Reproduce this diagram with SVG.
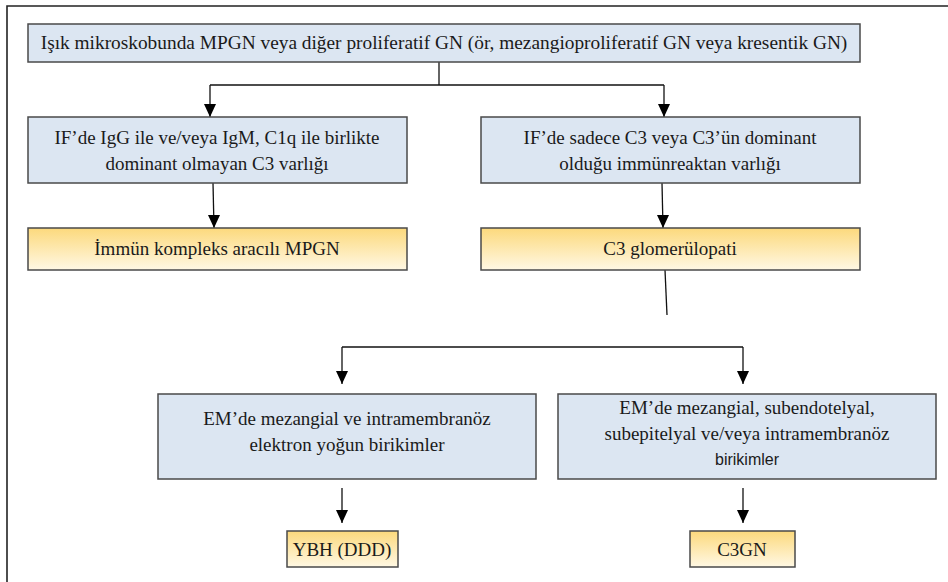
<svg xmlns="http://www.w3.org/2000/svg" width="948" height="582" viewBox="0 0 948 582">
<style>
.frame{fill:none;stroke:#222;stroke-width:1.6}
.blue{fill:#dce6f2;stroke:#4a4a4a;stroke-width:1.5}
.yel{fill:url(#yg);stroke:#4a4a4a;stroke-width:1.5}
.t{font-family:'Liberation Serif',serif;font-size:19px;fill:#1a1a1a;text-anchor:middle}
.s{font-family:'Liberation Sans',sans-serif;font-size:16px;fill:#1a1a1a;text-anchor:middle}
.c{fill:none;stroke:#111;stroke-width:1.3}
</style>
<defs>
<linearGradient id="yg" x1="0" y1="0" x2="0" y2="1">
<stop offset="0" stop-color="#fcd97c"/>
<stop offset="1" stop-color="#fff8e4"/>
</linearGradient>
<marker id="ad" markerUnits="userSpaceOnUse" markerWidth="12" markerHeight="14" refX="6" refY="13" orient="0" viewBox="0 0 12 14">
<path d="M0,0 L12,0 L6,13 Z" fill="#000"/>
</marker>
</defs>
<path class="frame" d="M7,582 V6 H948"/>
<g id="connectors">
<path class="c" d="M439,62 V85"/>
<path class="c" d="M210,85 H664"/>
<path class="c" d="M210,85 V117" marker-end="url(#ad)"/>
<path class="c" d="M664,85 V117" marker-end="url(#ad)"/>
<path class="c" d="M213,183 L214,228" marker-end="url(#ad)"/>
<path class="c" d="M662,183 L663,228" marker-end="url(#ad)"/>
<path class="c" d="M665,270 L667,315"/>
<path class="c" d="M342,347 H743"/>
<path class="c" d="M342,347 V384" marker-end="url(#ad)"/>
<path class="c" d="M743,347 V384" marker-end="url(#ad)"/>
<path class="c" d="M342,488 V523" marker-end="url(#ad)"/>
<path class="c" d="M743,488 V523" marker-end="url(#ad)"/>
</g>
<g id="n-top">
<rect class="blue" x="28" y="24" width="832" height="38"/>
<text class="t" x="444" y="49" style="font-size:19.35px">Işık mikroskobunda MPGN veya diğer proliferatif GN (ör, mezangioproliferatif GN veya kresentik GN)</text>
</g>
<g id="n-if-left">
<rect class="blue" x="28" y="117" width="379" height="66"/>
<text class="t" x="217" y="144">IF’de IgG ile ve/veya IgM, C1q ile birlikte</text>
<text class="t" x="217" y="170">dominant olmayan C3 varlığı</text>
</g>
<g id="n-if-right">
<rect class="blue" x="481" y="117" width="379" height="66"/>
<text class="t" x="670" y="144">IF’de sadece C3 veya C3’ün dominant</text>
<text class="t" x="670" y="170">olduğu immünreaktan varlığı</text>
</g>
<g id="n-ic-mpgn">
<rect class="yel" x="28" y="228" width="379" height="42"/>
<text class="t" x="217" y="255">İmmün kompleks aracılı MPGN</text>
</g>
<g id="n-c3g">
<rect class="yel" x="481" y="228" width="379" height="42"/>
<text class="t" x="670" y="255">C3 glomerülopati</text>
</g>
<g id="n-em-left">
<rect class="blue" x="158" y="394" width="378" height="85"/>
<text class="t" x="347" y="425">EM’de mezangial ve intramembranöz</text>
<text class="t" x="347" y="451">elektron yoğun birikimler</text>
</g>
<g id="n-em-right">
<rect class="blue" x="558" y="394" width="378" height="85"/>
<text class="t" x="747" y="414">EM’de mezangial, subendotelyal,</text>
<text class="t" x="747" y="440">subepitelyal ve/veya intramembranöz</text>
<text class="s" x="747" y="465">birikimler</text>
</g>
<g id="n-ybh">
<rect class="yel" x="287" y="531" width="111" height="36"/>
<text class="t" x="342" y="556">YBH (DDD)</text>
</g>
<g id="n-c3gn">
<rect class="yel" x="690" y="531" width="105" height="36"/>
<text class="t" x="742" y="556">C3GN</text>
</g>
</svg>
